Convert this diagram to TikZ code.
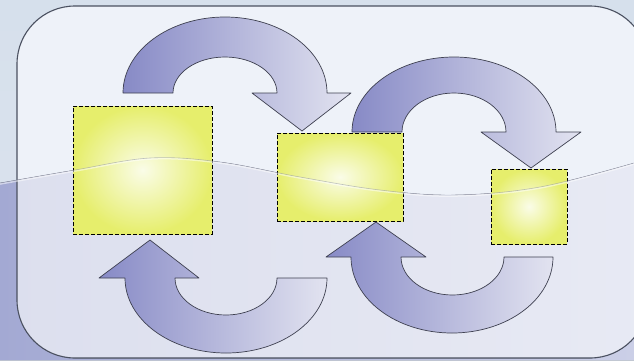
\documentclass[tikz,border=0pt]{standalone}
\definecolor{bgtop}{HTML}{D6E0EC}
\definecolor{bgbot}{HTML}{DCE3EE}
\definecolor{outlowL}{HTML}{A3A9D3}
\definecolor{outlowR}{HTML}{CBCFE7}
\definecolor{inup}{HTML}{EEF2F9}
\definecolor{inlowL}{HTML}{DCDFEE}
\definecolor{inlowR}{HTML}{E8EAF4}
\definecolor{framec}{HTML}{4A5060}
\definecolor{arrdark}{HTML}{878AC6}
\definecolor{arrlight}{HTML}{E2E3F0}
\definecolor{arrline}{HTML}{3E4050}
\definecolor{yin}{HTML}{FAFCE8}
\definecolor{yout}{HTML}{E6EE6C}
\definecolor{wavec}{HTML}{8E92A8}
\tikzset{
  frame/.style={draw=framec,line width=1.1pt},
  uarrow/.style={draw=arrline,line width=0.7pt,line join=round,left color=arrdark,right color=arrlight},
  ybox/.style={draw=black,dash pattern=on 4pt off 2pt,line width=0.9pt,inner color=yin,outer color=yout,inner sep=0pt,outer sep=0pt}
}
\begin{document}
\begin{tikzpicture}[x=1pt,y=-1pt]
\useasboundingbox (0,0) rectangle (634,360);
\clip (0,0) rectangle (634,360);
% background
\fill[top color=bgtop,bottom color=bgbot] (0,0) rectangle (634,360);
\fill[left color=outlowL,right color=outlowR] plot[smooth,tension=0.6] coordinates {(0,183) (75,170) (150,158) (220,162) (300,177) (380,190) (455,195) (540,187) (634,163)} -- (634,360) -- (0,360) -- cycle;
% inner panel
\begin{scope}
\clip[rounded corners=58pt] (17,6) rectangle (648,358);
\fill[inup] (0,0) rectangle (660,360);
\fill[left color=inlowL,right color=inlowR] plot[smooth,tension=0.6] coordinates {(0,183) (75,170) (150,158) (220,162) (300,177) (380,190) (455,195) (540,187) (634,163)} -- (660,360) -- (0,360) -- cycle;
\end{scope}
\draw[frame,rounded corners=58pt] (17,6) rectangle (648,358);
% boxes
\node[ybox,minimum width=139pt,minimum height=128pt] (A) at (142.5,170) {};
\node[ybox,minimum width=126pt,minimum height=88pt] (B) at (340,177) {};
\node[ybox,minimum width=76pt,minimum height=75pt] (C) at (529,206.5) {};
% wave line on top
\draw[white,opacity=0.5,line width=1.6pt] plot[smooth,tension=0.6] coordinates {(0,184) (75,171) (150,159) (220,163) (300,178) (380,191) (455,196) (540,188) (634,164)};
\draw[wavec,opacity=0.55,line width=0.6pt] plot[smooth,tension=0.6] coordinates {(0,183) (75,170) (150,158) (220,162) (300,177) (380,190) (455,195) (540,187) (634,163)};
% arrows
\draw[uarrow] (123,93) arc[start angle=180,end angle=0,x radius=102pt,y radius=76pt] -- (351,93) -- (302,131) -- (252,93) -- (277,93) arc[start angle=0,end angle=180,x radius=52pt,y radius=36pt] -- cycle;
\draw[uarrow] (352,132) arc[start angle=180,end angle=0,x radius=102pt,y radius=75pt] -- (581,132) -- (531,168) -- (481,132) -- (506,132) arc[start angle=0,end angle=180,x radius=52pt,y radius=39pt] -- cycle;
\draw[uarrow] (327,278) arc[start angle=0,end angle=-180,x radius=101pt,y radius=75pt] -- (99,278) -- (150,240) -- (199,278) -- (175,278) arc[start angle=180,end angle=360,x radius=51pt,y radius=37pt] -- cycle;
\draw[uarrow] (553,257) arc[start angle=0,end angle=-180,x radius=101pt,y radius=76pt] -- (326,257) -- (376,222) -- (426,257) -- (401,257) arc[start angle=180,end angle=360,x radius=51.5pt,y radius=38pt] -- cycle;
\end{tikzpicture}
\end{document}
